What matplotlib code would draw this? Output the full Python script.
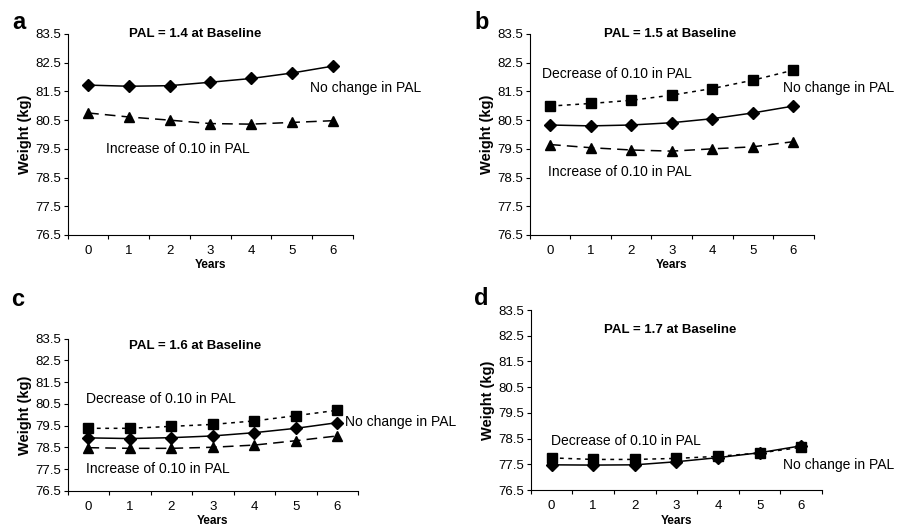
import numpy as np
import matplotlib
matplotlib.use('Agg')
import matplotlib.pyplot as plt

plt.rcParams['font.family'] = ['Liberation Sans', 'DejaVu Sans']

years = [0, 1, 2, 3, 4, 5, 6]
yticks = [76.5, 77.5, 78.5, 79.5, 80.5, 81.5, 82.5, 83.5]

# a) PAL 1.4
a_same = [81.72, 81.68, 81.70, 81.82, 81.95, 82.14, 82.38]
a_inc = [80.75, 80.61, 80.50, 80.38, 80.36, 80.42, 80.48]
# b) PAL 1.5
b_dec = [80.99, 81.08, 81.19, 81.37, 81.60, 81.89, 82.24]
b_same = [80.33, 80.30, 80.33, 80.41, 80.55, 80.75, 80.99]
b_inc = [79.65, 79.54, 79.46, 79.42, 79.50, 79.57, 79.75]
# c) PAL 1.6
c_dec = [79.38, 79.38, 79.47, 79.56, 79.72, 79.96, 80.21]
c_same = [78.94, 78.91, 78.95, 79.03, 79.18, 79.38, 79.64]
c_inc = [78.49, 78.46, 78.46, 78.51, 78.61, 78.81, 79.03]
# d) PAL 1.7
d_dec = [77.75, 77.69, 77.69, 77.73, 77.81, 77.94, 78.16]
d_same = [77.48, 77.47, 77.48, 77.60, 77.76, 77.95, 78.22]

fig = plt.figure(figsize=(8.98, 5.32), dpi=100)

def setup(ax, letter, ly=1.02):
    ax.set_xlim(-0.5, 6.5)
    ax.set_ylim(76.5, 83.5)
    ax.spines['top'].set_visible(False)
    ax.spines['right'].set_visible(False)
    ax.set_yticks(yticks)
    ax.set_yticklabels(['%.1f' % v for v in yticks], fontsize=9.5)
    # excel style: tick marks between categories, labels in the middle
    ax.set_xticks(np.arange(-0.5, 7, 1))
    ax.set_xticklabels([])
    ax.set_xticks(years, minor=True)
    ax.set_xticklabels([str(y) for y in years], minor=True, fontsize=9.5)
    ax.tick_params(axis='x', which='minor', length=0, pad=7)
    ax.tick_params(axis='both', which='major', direction='out', length=3, pad=2)
    ax.set_ylabel('Weight (kg)', fontsize=10.5, fontweight='bold', labelpad=2)
    ax.set_xlabel('Years', fontsize=8.5, fontweight='bold', labelpad=2)
    ax.text(-0.195, ly, letter, transform=ax.transAxes, fontsize=17,
            fontweight='bold', va='bottom', ha='left')

def same(ax, v):
    ax.plot(years, v, color='black', lw=1.1, marker='D', ms=6)

def inc(ax, v):
    ax.plot(years, v, color='black', lw=1.1, ls=(0, (7, 4)), marker='^', ms=7)

def dec(ax, v):
    ax.plot(years, v, color='black', lw=1.1, ls=(0, (2.5, 3)), marker='s', ms=7)

fs = 10
tfs = 9.5

ax = fig.add_axes([0.0754, 0.5583, 0.3177, 0.3778])
setup(ax, 'a', ly=1.0)
same(ax, a_same)
inc(ax, a_inc)
ax.text(2.62, 83.5, 'PAL = 1.4 at Baseline', fontsize=tfs, fontweight='bold', ha='center', va='center')
ax.text(5.45, 81.63, 'No change in PAL', fontsize=fs, va='center', clip_on=False)
ax.text(0.44, 79.51, 'Increase of 0.10 in PAL', fontsize=fs, va='center')

ax = fig.add_axes([0.590, 0.5583, 0.316, 0.3778])
setup(ax, 'b', ly=1.0)
dec(ax, b_dec)
same(ax, b_same)
inc(ax, b_inc)
ax.text(2.97, 83.5, 'PAL = 1.5 at Baseline', fontsize=tfs, fontweight='bold', ha='center', va='center')
ax.text(-0.2, 82.1, 'Decrease of 0.10 in PAL', fontsize=fs, va='center')
ax.text(5.74, 81.63, 'No change in PAL', fontsize=fs, va='center', clip_on=False)
ax.text(-0.05, 78.70, 'Increase of 0.10 in PAL', fontsize=fs, va='center')

ax = fig.add_axes([0.0754, 0.0771, 0.3233, 0.2863])
setup(ax, 'c', ly=1.18)
dec(ax, c_dec)
same(ax, c_same)
inc(ax, c_inc)
ax.text(2.57, 83.16, 'PAL = 1.6 at Baseline', fontsize=tfs, fontweight='bold', ha='center', va='center')
ax.text(-0.06, 80.71, 'Decrease of 0.10 in PAL', fontsize=fs, va='center')
ax.text(6.18, 79.67, 'No change in PAL', fontsize=fs, va='center', clip_on=False)
ax.text(-0.06, 77.5, 'Increase of 0.10 in PAL', fontsize=fs, va='center')

ax = fig.add_axes([0.591, 0.0789, 0.3244, 0.3383])
setup(ax, 'd', ly=1.0)
dec(ax, d_dec)
same(ax, d_same)
ax.text(2.86, 82.72, 'PAL = 1.7 at Baseline', fontsize=tfs, fontweight='bold', ha='center', va='center')
ax.text(-0.02, 78.42, 'Decrease of 0.10 in PAL', fontsize=fs, va='center')
ax.text(5.57, 77.48, 'No change in PAL', fontsize=fs, va='center', clip_on=False)

fig.savefig('out.png', dpi=100)
